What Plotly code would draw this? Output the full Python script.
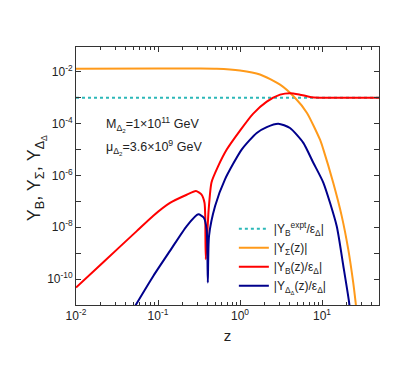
import plotly.graph_objects as go

# ── data (z, Y) ────────────────────────────────────────────────
z_expt = [0.01, 50.0]
y_expt = [1.0e-3, 1.0e-3]

z_sigma = [0.01, 0.1, 0.32, 0.52, 1.0, 1.75, 3.08, 4.68, 6.56, 9.46, 10.4, 13.7, 17.4, 20.9, 24.0, 25.7, 27.0]
y_sigma = [1.32e-2, 1.35e-2, 1.35e-2, 1.32e-2, 1.12e-2, 7.9e-3, 3.2e-3, 1.0e-3, 2.6e-4, 2.4e-5, 1.0e-5,
           5.2e-7, 2.7e-8, 1.4e-9, 7.4e-11, 1.26e-11, 3e-12]

z_b = [0.01, 0.0215, 0.055, 0.0877, 0.14, 0.224, 0.29, 0.338, 0.369, 0.377, 0.382, 0.415, 0.449,
       0.54, 0.689, 1.0, 1.44, 2.12, 3.08, 4.07, 5.37, 7.14, 9.46, 13.0, 20.0, 50.0]
y_b = [4.7e-11, 4.5e-10, 7.1e-9, 2.8e-8, 8.7e-8, 1.8e-7, 2.5e-7, 1.86e-7, 8.9e-8, 2.5e-8, 5.9e-10,
       4.9e-8, 5.4e-7, 2.24e-6, 1.0e-5, 5.4e-5, 2.4e-4, 7.1e-4, 1.32e-3, 1.51e-3, 1.32e-3, 1.08e-3,
       1.01e-3, 1.0e-3, 1.0e-3, 1.0e-3]

z_dd = [0.0513, 0.0877, 0.14, 0.224, 0.31, 0.362, 0.392, 0.405, 0.419, 0.497, 0.656, 1.047, 1.6,
        2.12, 2.93, 4.07, 5.92, 7.83, 10.4, 15.1, 18.2, 21.4, 22.4]
y_dd = [8e-12, 1.32e-10, 1.23e-9, 1.12e-8, 3.16e-8, 2.34e-8, 8.3e-9, 7.4e-11, 4.7e-9, 6.6e-8, 7.1e-7,
        1e-5, 4.4e-5, 7.4e-5, 1.0e-4, 6.8e-5, 1.82e-5, 3.1e-6, 5.2e-7, 1.12e-8, 3.2e-10, 1.26e-11, 3e-12]

y_exps = list(range(-11, 0))
x_exps = [-2, -1, 0, 1]

FONT = "Liberation Sans, Arial, sans-serif"
INK = "#222"

fig = go.Figure()
fig.add_trace(go.Scatter(x=z_expt, y=y_expt, mode="lines",
                         line=dict(color="#2cb8b8", width=2, dash="dot"),
                         name="|Y<sub>B</sub><sup>expt</sup>/ε<sub>Δ</sub>|"))
fig.add_trace(go.Scatter(x=z_sigma, y=y_sigma, mode="lines",
                         line=dict(color="#ff9a1a", width=2, shape="spline", smoothing=0.6),
                         name="|Y<sub>Σ</sub>(z)|"))
fig.add_trace(go.Scatter(x=z_b, y=y_b, mode="lines",
                         line=dict(color="#ff0000", width=2, shape="spline", smoothing=0.6),
                         name="|Y<sub>B</sub>(z)/ε<sub>Δ</sub>|"))
fig.add_trace(go.Scatter(x=z_dd, y=y_dd, mode="lines",
                         line=dict(color="#00008c", width=2, shape="spline", smoothing=0.6),
                         name="|Y<sub>Δ<sub>Δ</sub></sub>(z)/ε<sub>Δ</sub>|"))

# parameter labels
fig.add_annotation(x=0.093, y=0.698, xref="paper", yref="paper", xanchor="left", yanchor="middle",
                   showarrow=False, text="M<sub>Δ<sub>2</sub></sub>=1×10<sup>11</sup> GeV",
                   font=dict(size=12.5, family=FONT, color=INK))
fig.add_annotation(x=0.093, y=0.61, xref="paper", yref="paper", xanchor="left", yanchor="middle",
                   showarrow=False, text="μ<sub>Δ<sub>2</sub></sub>=3.6×10<sup>9</sup> GeV",
                   font=dict(size=12.5, family=FONT, color=INK))

# y title as a rotated annotation (sits a bit below the axis centre in the reference)
fig.add_annotation(x=-0.133, y=0.49, xref="paper", yref="paper", xanchor="center", yanchor="middle",
                   showarrow=False, textangle=-90,
                   text="Y<sub>B</sub>, Y<sub>Σ</sub>, Y<sub>Δ<sub>Δ</sub></sub>",
                   font=dict(size=18, family=FONT, color=INK))

fig.update_xaxes(
    type="log", range=[-2, 1.695],
    tickvals=[10.0 ** e for e in x_exps],
    ticktext=["10<sup>%d</sup>" % e for e in x_exps],
    ticks="inside", ticklen=5, tickcolor="#333",
    minor=dict(ticks="inside", ticklen=3, dtick="D1", tickcolor="#333"),
    showline=True, linecolor="#333", linewidth=1, mirror="allticks",
    showgrid=False, zeroline=False,
    tickfont=dict(size=12, family=FONT, color=INK),
    title=dict(text="z", font=dict(size=15, family=FONT, color=INK), standoff=8),
)
fig.update_yaxes(
    type="log", range=[-11, -1.04],
    tickvals=[10.0 ** e for e in y_exps],
    ticktext=["10<sup>%d</sup>" % e if e % 2 == 0 else "" for e in y_exps],
    ticks="inside", ticklen=5, tickcolor="#333",
    showline=True, linecolor="#333", linewidth=1, mirror="allticks",
    showgrid=False, zeroline=False,
    tickfont=dict(size=12, family=FONT, color=INK),
)

# the page body adds an 8px offset, so the margins are pulled in by 8px on the left/top
fig.update_layout(
    width=409, height=382,
    margin=dict(l=68, r=38, t=39, b=85),
    paper_bgcolor="white", plot_bgcolor="white",
    showlegend=True,
    legend=dict(x=0.521, y=0.352, xanchor="left", yanchor="top",
                bgcolor="rgba(0,0,0,0)", itemwidth=30, tracegroupgap=0,
                font=dict(size=12, family=FONT, color=INK)),
)

fig.write_html("out.html")
